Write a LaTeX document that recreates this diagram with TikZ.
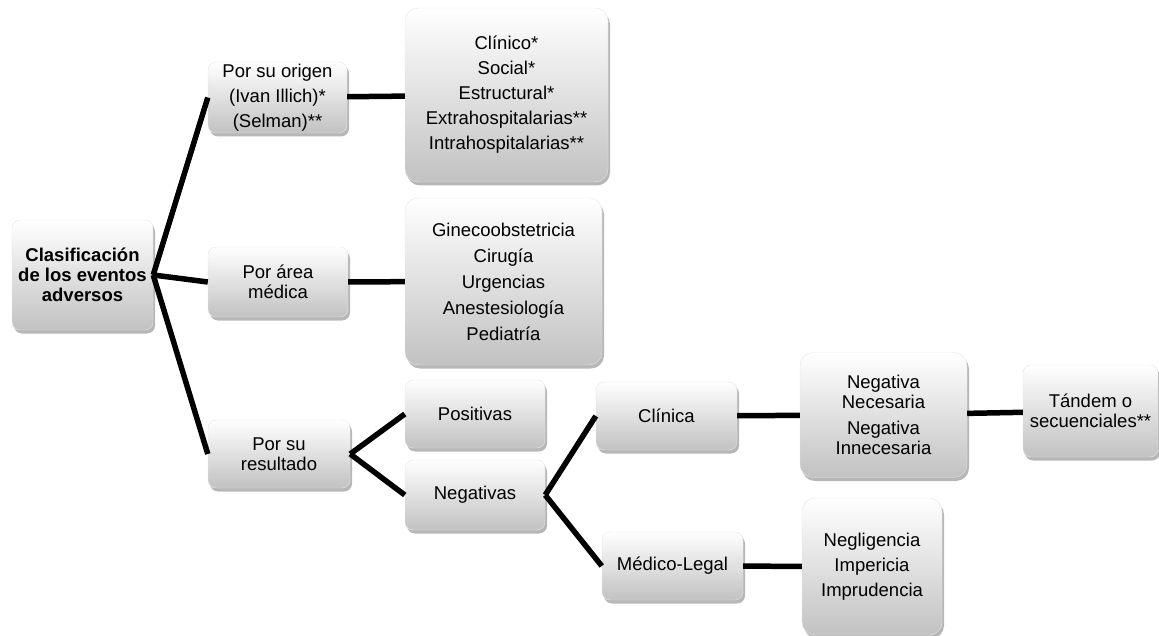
\documentclass[tikz,border=0pt]{standalone}
\usepackage{fontspec}
\setmainfont{Liberation Sans}
\usetikzlibrary{shadows}

\begin{document}
\begin{tikzpicture}[
        x=1pt, y=-1pt,
        box/.style={rectangle, draw=black!10, rounded corners=8pt, top color=white, bottom color=black!24, drop shadow={shadow xshift=2pt, shadow yshift=-3.5pt, opacity=0.4, fill=black!70}, align=center, inner sep=0pt, font=\fontsize{18.5}{20}\selectfont},
        bigbox/.style={box, rounded corners=13pt},
        link/.style={line width=5.5pt, black},
    ]
        \useasboundingbox (0,0) rectangle (1159,636);

        % Root
        \node[box, minimum width=141pt, minimum height=110pt, font=\fontsize{18.5}{20}\selectfont\bfseries] (root) at (82.5,275) {Clasificación\\de los eventos\\adversos};

        % Second level
        \node[box, minimum width=139pt, minimum height=71pt] (origen) at (277.5,97.5) {Por su origen\\[5pt](Ivan Illich)*\\[5pt](Selman)**};
        \node[box, minimum width=140pt, minimum height=70pt] (area) at (278,282) {Por área\\médica};
        \node[box, minimum width=142pt, minimum height=68pt] (resultado) at (279,454) {Por su\\resultado};

        % Por su origen - list
        \node[bigbox, minimum width=203pt, minimum height=174pt] (origen_list) at (506.5,95) {Clínico*\\[5pt]Social*\\[5pt]Estructural*\\[5pt]Extrahospitalarias**\\[5pt]Intrahospitalarias**};

        % Por area medica - list
        \node[bigbox, minimum width=197pt, minimum height=167pt] (area_list) at (503.5,281.5) {Ginecoobstetricia\\[6pt]Cirugía\\[6pt]Urgencias\\[6pt]Anestesiología\\[6pt]Pediatría};

        % Por su resultado
        \node[box, minimum width=140pt, minimum height=68pt] (positivas) at (475,414) {Positivas};
        \node[box, minimum width=140pt, minimum height=70pt] (negativas) at (475,495) {Negativas};

        % Negativas
        \node[box, minimum width=141pt, minimum height=68pt] (clinica) at (666.5,416) {Clínica};
        \node[box, minimum width=141pt, minimum height=68pt] (medico) at (672.5,566) {Médico-Legal};
        \node[bigbox, minimum width=167pt, minimum height=125pt] (clinica_list) at (883.5,415) {Negativa\\Necesaria\\[6pt]Negativa\\Innecesaria};
        \node[box, minimum width=135pt, minimum height=92pt] (tandem) at (1090.5,411) {Tándem o\\secuenciales**};
        \node[bigbox, minimum width=140pt, minimum height=137pt] (medico_list) at (872,566.5) {Negligencia\\[5pt]Impericia\\[5pt]Imprudencia};

        % Connectors
        \draw[link] (root.east) -- (origen.west);
        \draw[link] (root.east) -- (area.west);
        \draw[link] (root.east) -- (resultado.west);
        \draw[link] (origen) -- (origen_list);
        \draw[link] (area) -- (area_list);
        \draw[link] (resultado.east) -- (positivas.west);
        \draw[link] (resultado.east) -- (negativas.west);
        \draw[link] (negativas.east) -- (clinica.west);
        \draw[link] (negativas.east) -- (medico.west);
        \draw[link] (clinica) -- (clinica_list);
        \draw[link] (clinica_list) -- (tandem);
        \draw[link] (medico) -- (medico_list);

    \end{tikzpicture}
\end{document}
